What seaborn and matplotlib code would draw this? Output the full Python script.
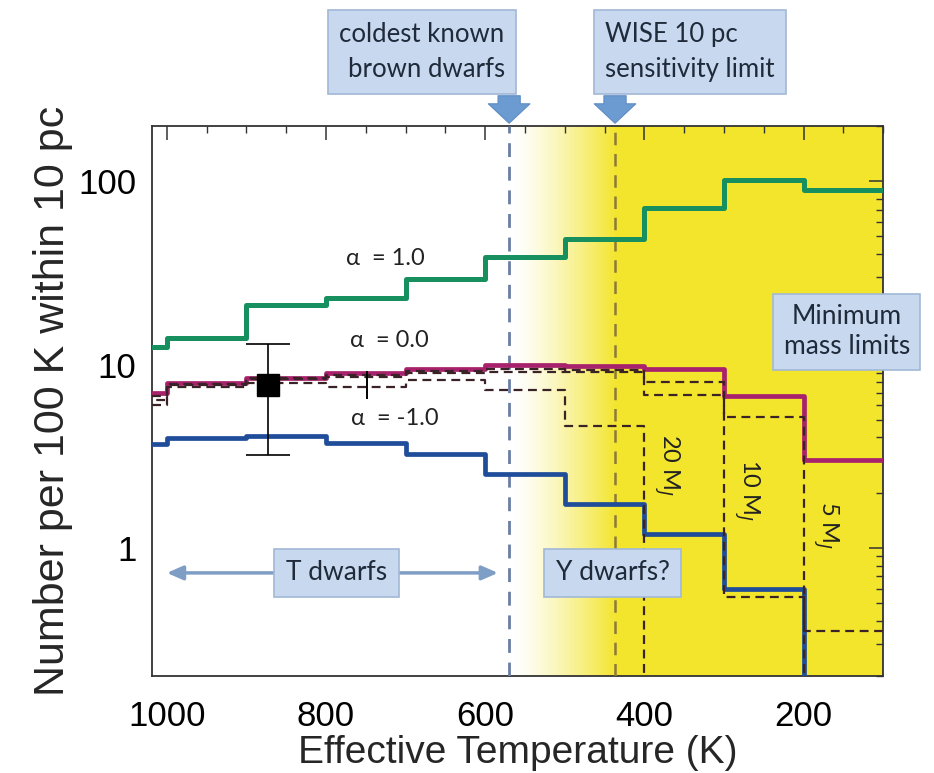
import numpy as np
import pandas as pd
import matplotlib
matplotlib.use("Agg")
import matplotlib.pyplot as plt
import seaborn as sns
from matplotlib.ticker import MultipleLocator, LogLocator, NullFormatter, FixedLocator, FixedFormatter

sns.set_theme(style="white")
plt.rcParams['font.family'] = ['Liberation Sans', 'DejaVu Sans']

# ---- data (bins of 100 K, listed from 1100-1000 K down to 200-100 K) ----
bin_edges_hi = [1100, 1000, 900, 800, 700, 600, 500, 400, 300, 200]
alpha_p1 = [12.5, 14.0, 21.2, 23.2, 29.2, 38.6, 48.5, 71.6, 101.0, 89.4]
alpha_0 = [7.0, 7.9, 8.4, 9.0, 9.4, 9.9, 9.8, 9.4, 6.7, 3.0]
alpha_m1 = [3.7, 3.95, 4.1, 3.73, 3.24, 2.53, 1.73, 1.19, 0.60, 0.0]
mlim_20 = [6.0, 7.5, 7.9, 7.5, 8.2, 7.3, 4.6, 0.0, 0.0, 0.0]
mlim_10 = [6.4, 7.7, 8.3, 8.6, 9.0, 9.1, 9.1, 6.8, 0.54, 0.0]
mlim_5 = [6.7, 7.8, 8.4, 8.8, 9.2, 9.4, 9.3, 8.0, 5.2, 0.35]

obs_T = [873, 748]
obs_N = [7.7, 7.9]
obs_lo = [3.2, 6.5]
obs_hi = [13.0, 9.2]

coldest_T = 570
wise_T = 437
xticks = [1000, 800, 600, 400, 200]
yticks = [1, 10, 100]
ytick_labels = ["1", "10", "100"]

W, H = 934, 773
fig = plt.figure(figsize=(W / 100, H / 100), dpi=100)
ax = fig.add_axes([151.7 / W, 1 - 676 / H, (883.3 - 151.7) / W, (676 - 126) / H])

yellow = np.array([243, 229, 44]) / 255.0
# gradient from white to yellow
n = 80
g_lo, g_hi = 435, 565
for i in range(n):
    a = g_hi - (g_hi - g_lo) * i / n
    b = g_hi - (g_hi - g_lo) * (i + 1) / n
    f = ((i + 0.5) / n) ** 1.3
    ax.axvspan(b, a, color=yellow, alpha=f, lw=0, zorder=0)
ax.axvspan(100, g_lo, color=yellow, lw=0, zorder=0)


def step_frame(vals):
    # ascending x edges, steps-post
    edges = [e - 100 for e in bin_edges_hi][::-1] + [bin_edges_hi[0]]
    v = list(vals)[::-1]
    v = v + [v[-1]]
    return pd.DataFrame({"T": edges, "N": v})


solid = [(alpha_p1, "#178f5e", 3.6), (alpha_0, "#a8216c", 3.4), (alpha_m1, "#1f4d9a", 3.4)]
for vals, col, lw in solid:
    df = step_frame(vals)
    sns.lineplot(data=df, x="T", y="N", ax=ax, color=col, lw=lw,
                 drawstyle="steps-post", estimator=None, sort=True, zorder=4)

for vals in (mlim_20, mlim_10, mlim_5):
    df = step_frame(vals)
    sns.lineplot(data=df, x="T", y="N", ax=ax, color="#3a2326", lw=1.6,
                 drawstyle="steps-post", estimator=None, sort=True, zorder=5,
                 dashes=False, linestyle=(0, (4, 2.5)))

ax.set_yscale("log", nonpositive="clip")
ax.set_xlim(1019, 100)
ax.set_ylim(0.2, 200)

# vertical dashed lines
ax.axvline(coldest_T, color="#6a7fa3", lw=2.0, ls=(0, (5, 3.5)), zorder=3)
ax.axvline(wise_T, color="#8c7a3a", lw=1.8, ls=(0, (5, 3.5)), zorder=3)

# observed points
ax.errorbar([obs_T[0]], [obs_N[0]],
            yerr=[[obs_N[0] - obs_lo[0]], [obs_hi[0] - obs_N[0]]],
            fmt="s", color="black", ms=16, capsize=16, elinewidth=1.2, capthick=1.2, zorder=7)
ax.errorbar([obs_T[1]], [obs_N[1]],
            yerr=[[obs_N[1] - obs_lo[1]], [obs_hi[1] - obs_N[1]]],
            fmt="none", ecolor="black", elinewidth=1.4, zorder=7)

# ticks
ax.xaxis.set_major_locator(FixedLocator(xticks))
ax.xaxis.set_minor_locator(MultipleLocator(50))
ax.yaxis.set_major_locator(FixedLocator(yticks))
ax.yaxis.set_major_formatter(FixedFormatter(ytick_labels))
ax.yaxis.set_minor_locator(LogLocator(base=10, subs=np.arange(2, 10)))
ax.yaxis.set_minor_formatter(NullFormatter())
ax.tick_params(which="both", direction="in", top=True, right=True, colors="#333333",
               labelcolor="black", labelsize=25)
ax.tick_params(which="major", length=10, width=1.1)
ax.tick_params(which="minor", length=5, width=1.0)
ax.tick_params(axis="x", pad=17)
ax.tick_params(axis="y", pad=11)
for s in ax.spines.values():
    s.set_color("#333333")
    s.set_linewidth(1.3)

ax.set_xlabel("Effective Temperature (K)", fontsize=28, labelpad=2)
ax.set_ylabel("Number per 100 K within 10 pc", fontsize=31, labelpad=4)

# alpha labels
for T, y, s in [(725, 37.7, "α  = 1.0"), (720, 13.5, "α  = 0.0"), (714, 5.09, "α  = -1.0")]:
    ax.text(T, y, s, fontsize=17, ha="center", va="center", color="#222222",
            family=["Lato", "DejaVu Sans"], zorder=8)

# mass limit labels
for T, y, s in [(372, 2.83, "20 M$_J$"), (271, 2.07, "10 M$_J$"), (172, 1.33, "5 M$_J$")]:
    ax.text(T, y, s, fontsize=17, ha="center", va="center", rotation=270,
            color="#222222", family=["Lato", "DejaVu Sans"], zorder=8)

txtfont = ["Lato", "DejaVu Sans"]

# T dwarfs arrow & box
ax.annotate("", xy=(1000, 0.73), xytext=(584, 0.73),
            arrowprops=dict(arrowstyle="<|-|>,head_length=0.8,head_width=0.35",
                            color="#7f9ec6", lw=2.5, shrinkA=0, shrinkB=0), zorder=8)
ax.text(787, 0.73, "T dwarfs", fontsize=19, ha="center", va="center", family=txtfont,
        color="#1f2a3a", bbox=dict(boxstyle="square,pad=0.45", fc="#c8d8ee", ec="#a2b8d6", lw=1.2), zorder=9)
ax.text(440, 0.73, "Y dwarfs?", fontsize=19, ha="center", va="center", family=txtfont,
        color="#1f2a3a", bbox=dict(boxstyle="square,pad=0.45", fc="#c8d8ee", ec="#a2b8d6", lw=1.2), zorder=9)
ax.text(146, 15.1, "Minimum\nmass limits", fontsize=19, ha="center", va="center", family=txtfont,
        color="#1f2a3a", linespacing=1.25, clip_on=False,
        bbox=dict(boxstyle="square,pad=0.4", fc="#c8d8ee", ec="#a2b8d6", lw=1.2), zorder=9)

# top annotation boxes with arrows
fig.text(422 / W, 1 - 52 / H, "coldest known\nbrown dwarfs", fontsize=18.5, ha="center",
         va="center", multialignment="right", family=txtfont, color="#1f2a3a",
         linespacing=1.5, bbox=dict(boxstyle="square,pad=0.45", fc="#c8d8ee", ec="#a2b8d6", lw=1.2))
fig.text(690 / W, 1 - 52 / H, "WISE 10 pc\nsensitivity limit", fontsize=18.5, ha="center",
         va="center", multialignment="left", family=txtfont, color="#1f2a3a",
         linespacing=1.5, bbox=dict(boxstyle="square,pad=0.45", fc="#c8d8ee", ec="#a2b8d6", lw=1.2))

for T in (coldest_T, wise_T):
    ax.annotate("", xy=(T, 1.005), xycoords=("data", "axes fraction"),
                xytext=(T, 1.055), textcoords=("data", "axes fraction"),
                arrowprops=dict(arrowstyle="simple,head_length=0.7,head_width=1.5,tail_width=0.8",
                                fc="#6c9bd2", ec="#5e8cc4", lw=0.8, shrinkA=0, shrinkB=0,
                                mutation_scale=20),
                annotation_clip=False, zorder=10)

fig.savefig("out.png", dpi=100)
